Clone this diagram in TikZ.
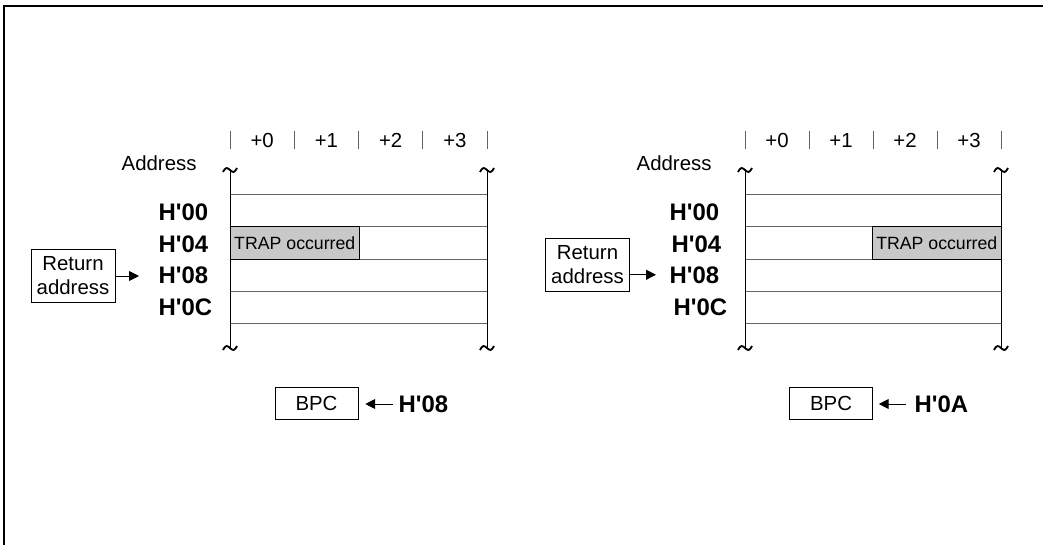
\documentclass[tikz,border=0pt]{standalone}
\usepackage{fontspec}
\setmainfont{Liberation Sans}
\usetikzlibrary{arrows.meta,positioning}
\definecolor{trapfill}{RGB}{200,200,200}
\definecolor{gridline}{RGB}{100,100,100}
\newcommand{\hq}{\textquotesingle}

\begin{document}
\begin{tikzpicture}[x=0.025cm, y=-0.025cm,
  txt/.style={font=\fontsize{14.5}{17}\selectfont, inner sep=1pt},
  addr/.style={font=\fontsize{17}{19}\selectfont\bfseries, inner sep=1pt},
  trapbox/.style={draw, fill=trapfill, anchor=north west, inner sep=0pt,
    font=\fontsize{12.6}{14}\selectfont, minimum width=3.225cm, minimum height=0.825cm},
  regbox/.style={draw, txt, minimum width=2.075cm, minimum height=0.8cm},
  retbox/.style={draw, txt, align=center, inner sep=1pt,
    minimum width=2.1cm, minimum height=1.33cm},
  ptr/.style={-{Triangle[length=7pt,width=7pt]}, line width=0.7pt}]
\useasboundingbox (0,0) rectangle (1043,545);
% outer frame (only top and left edges are visible)
\draw[line width=1.5pt] (1043,6) -- (4,6) -- (4,545);
% two memory panels: left edge / right edge
\foreach \a/\b in {230/487, 745/1001} {
  \foreach \y in {194,226,259,291,323}
    \draw[gridline, line width=0.6pt] (\a,\y) -- (\b,\y);
  \foreach \x in {\a,\b} {
    \draw[line width=0.6pt] (\x,170) -- (\x,348);
    \draw[line width=1.3pt] (\x-7,172) sin (\x-3.5,168) cos (\x,170)
      sin (\x+3.5,172) cos (\x+7,168);
    \draw[line width=1.3pt] (\x-7,350) sin (\x-3.5,346) cos (\x,348)
      sin (\x+3.5,350) cos (\x+7,346);
  }
  % byte columns +0 .. +3
  \foreach \k in {0,...,4}
    \draw[gridline, line width=0.6pt] ({\a+\k*(\b-\a)/4},131) -- ({\a+\k*(\b-\a)/4},149);
  \foreach \k in {0,...,3}
    \node[txt, anchor=base] at ({\a+(\k+0.5)*(\b-\a)/4},147) {+\k};
}
% left panel: TRAP at +0
\node[trapbox] (trapL) at (230,226) {TRAP occurred};
\node[txt, anchor=base west] (addrL) at (120,170) {Address};
\node[addr, anchor=base west] (h00L) at (157,220) {H\hq00};
\node[addr, anchor=base west] (h04L) at (157,252) {H\hq04};
\node[addr, anchor=base west] (h08L) at (157,283) {H\hq08};
\node[addr, anchor=base west] (h0cL) at (157,315) {H\hq0C};
\node[retbox] (retL) at (73,276) {Return\\address};
\draw[ptr, shorten >=0.45cm] (retL.east) -- (retL.east -| h08L.west);
\node[regbox] (bpcL) at (316.5,403) {BPC};
\node[addr, anchor=west] (valL) at (397,404) {H\hq08};
\draw[ptr, shorten <=0.1cm, shorten >=0.175cm] (valL.west) -- (valL.west -| bpcL.east);
% right panel: TRAP at +2
\node[trapbox] (trapR) at (872,226) {TRAP occurred};
\node[txt, anchor=base west] (addrR) at (635,170) {Address};
\node[addr, anchor=base west] (h00R) at (668,220) {H\hq00};
\node[addr, anchor=base west] (h04R) at (670,252) {H\hq04};
\node[addr, anchor=base west] (h08R) at (668,283) {H\hq08};
\node[addr, anchor=base west] (h0cR) at (672,315) {H\hq0C};
\node[retbox] (retR) at (587.5,264.5) {Return\\address};
\draw[ptr, shorten >=0.3cm] (retR.east |- h08R.west) -- (h08R.west);
\node[regbox] (bpcR) at (831,403) {BPC};
\node[addr, anchor=west] (valR) at (913,404) {H\hq0A};
\draw[ptr, shorten <=0.175cm, shorten >=0.15cm] (valR.west) -- (valR.west -| bpcR.east);
\end{tikzpicture}
\end{document}
